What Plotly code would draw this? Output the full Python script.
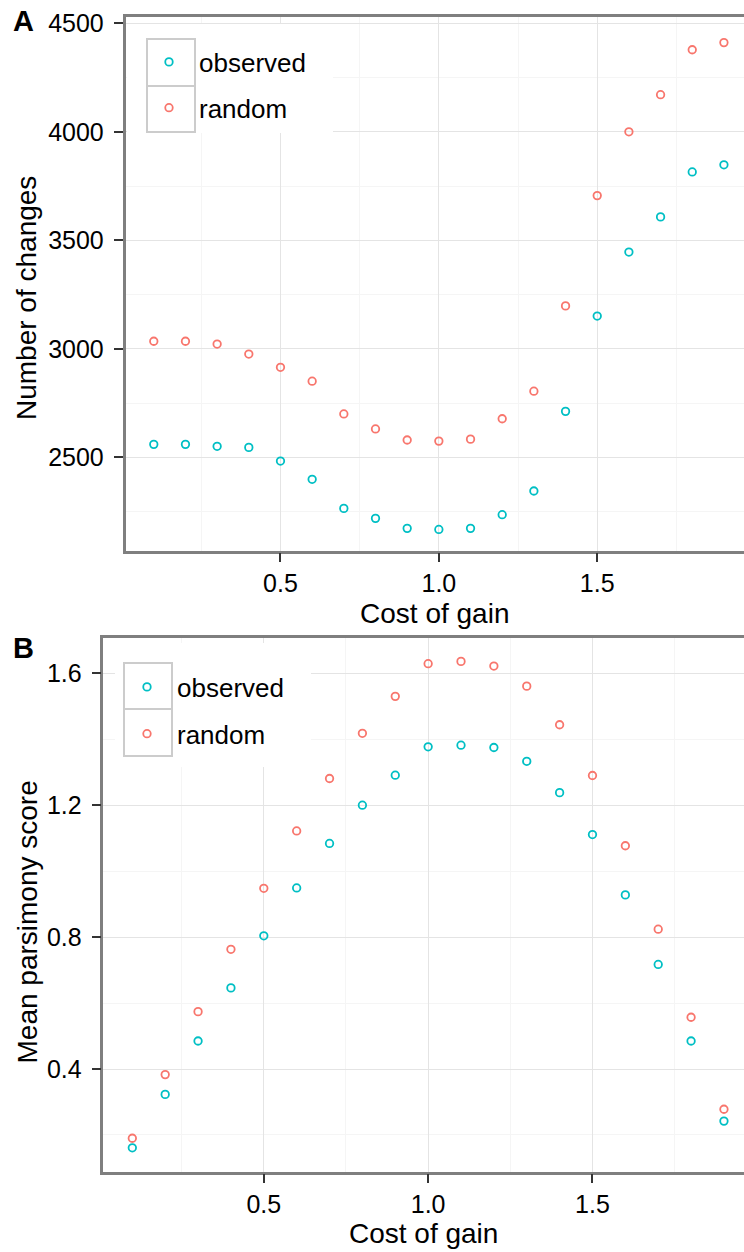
import plotly.graph_objects as go

# ---------------- data ----------------
cost_of_gain = [0.1, 0.2, 0.3, 0.4, 0.5, 0.6, 0.7, 0.8, 0.9, 1.0,
                1.1, 1.2, 1.3, 1.4, 1.5, 1.6, 1.7, 1.8, 1.9]

changes_observed = [2560, 2560, 2551, 2546, 2483, 2399, 2265, 2219, 2173, 2168,
                    2173, 2236, 2345, 2712, 3151, 3446, 3608, 3815, 3848]
changes_random = [3035, 3035, 3022, 2976, 2915, 2851, 2700, 2631, 2580, 2575,
                  2584, 2678, 2805, 3198, 3706, 4000, 4171, 4378, 4411]

parsimony_observed = [0.161, 0.323, 0.485, 0.646, 0.804, 0.949, 1.084, 1.200, 1.291, 1.377,
                      1.382, 1.375, 1.333, 1.238, 1.111, 0.928, 0.717, 0.485, 0.242]
parsimony_random = [0.190, 0.383, 0.574, 0.763, 0.948, 1.122, 1.281, 1.418, 1.530, 1.629,
                    1.636, 1.622, 1.561, 1.444, 1.290, 1.077, 0.824, 0.557, 0.278]

series_names = ["observed", "random"]
x_title = "Cost of gain"
y_title_a = "Number of changes"
y_title_b = "Mean parsimony score"

# ---------------- style ----------------
W, H = 744, 1252
FONT = "Liberation Sans, Arial, Helvetica, sans-serif"
COLORS = {"observed": "#00BFC4", "random": "#F8766D"}
BORDER = "#7f7f7f"
GRID = "#e4e4e4"
MINOR = "#f5f5f5"


def px_x(p):
    return p / W


def px_y(p):
    return 1 - p / H


fig = go.Figure()

panel_a = {"observed": changes_observed, "random": changes_random}
panel_b = {"observed": parsimony_observed, "random": parsimony_random}

for name in series_names:
    fig.add_trace(go.Scatter(
        x=cost_of_gain, y=panel_a[name], mode="markers", name=name,
        legend="legend", legendgroup="a_" + name, xaxis="x", yaxis="y",
        marker=dict(symbol="circle-open", size=7.5, color=COLORS[name],
                    line=dict(width=1.8, color=COLORS[name])),
    ))
for name in series_names:
    fig.add_trace(go.Scatter(
        x=cost_of_gain, y=panel_b[name], mode="markers", name=name,
        legend="legend2", legendgroup="b_" + name, xaxis="x2", yaxis="y2",
        marker=dict(symbol="circle-open", size=7.5, color=COLORS[name],
                    line=dict(width=1.8, color=COLORS[name])),
    ))

common_axis = dict(
    showline=True, linecolor=BORDER, linewidth=2.5,
    ticks="outside", ticklen=9, tickwidth=2, tickcolor="#333333",
    showgrid=True, gridcolor=GRID, gridwidth=1.3, zeroline=False,
    automargin=False,
    tickfont=dict(family=FONT, size=25, color="black"),
)

fig.update_layout(
    width=W, height=H, autosize=False,
    margin=dict(l=0, r=0, t=0, b=0, autoexpand=False),
    paper_bgcolor="white", plot_bgcolor="white",
    font=dict(family=FONT, color="black"),
    xaxis=dict(common_axis, domain=[px_x(125.5), 1], range=[0.0107, 1.9634],
               anchor="y", mirror=True, dtick=0.5, tick0=0, tickformat=".1f",
               minor=dict(dtick=0.25, tick0=0, showgrid=True, gridcolor=MINOR, gridwidth=1),
               title=dict(text=x_title, font=dict(family=FONT, size=28, color="black"), standoff=7)),
    yaxis=dict(common_axis, domain=[px_y(550.7), px_y(17)], range=[2070, 4529],
               anchor="x", mirror=False, dtick=500, tick0=0, ticklabelstandoff=5,
               minor=dict(dtick=250, tick0=0, showgrid=True, gridcolor=MINOR, gridwidth=1)),
    xaxis2=dict(common_axis, domain=[px_x(103.4), 1], range=[0.012, 1.961],
                anchor="y2", mirror=True, dtick=0.5, tick0=0, tickformat=".1f",
                minor=dict(dtick=0.25, tick0=0, showgrid=True, gridcolor=MINOR, gridwidth=1),
                title=dict(text=x_title, font=dict(family=FONT, size=28, color="black"), standoff=5)),
    yaxis2=dict(common_axis, domain=[px_y(1171.7), px_y(638)], range=[0.0886, 1.707],
                anchor="x2", mirror=False, dtick=0.4, tick0=0, tickformat=".1f",
                ticklabelstandoff=5,
                minor=dict(dtick=0.2, tick0=0, showgrid=True, gridcolor=MINOR, gridwidth=1)),
    legend=dict(x=px_x(139), y=px_y(38.5), xanchor="left", yanchor="top",
                bgcolor="rgba(0,0,0,0)", borderwidth=0, itemwidth=50,
                traceorder="grouped", tracegroupgap=9,
                font=dict(family=FONT, size=26, color="black")),
    legend2=dict(x=px_x(117), y=px_y(663.5), xanchor="left", yanchor="top",
                 bgcolor="rgba(0,0,0,0)", borderwidth=0, itemwidth=50,
                 traceorder="grouped", tracegroupgap=10,
                 font=dict(family=FONT, size=26, color="black")),
    showlegend=True,
)

# legend backgrounds and key boxes (ggplot-style)
shapes = []
for (bx0, by0, bx1, by1), (kx0, kx1, ky0, ky1, ky2) in [
    ((127, 24, 333, 133), (147, 195, 39, 86, 132)),
    ((115, 643, 311, 767), (124, 172, 663, 709, 756)),
]:
    shapes.append(dict(type="rect", xref="paper", yref="paper", layer="above",
                       x0=px_x(bx0), x1=px_x(bx1), y0=px_y(by1), y1=px_y(by0),
                       fillcolor="white", line=dict(width=0)))
    for ya, yb in [(ky0, ky1), (ky1, ky2)]:
        shapes.append(dict(type="rect", xref="paper", yref="paper", layer="above",
                           x0=px_x(kx0), x1=px_x(kx1), y0=px_y(yb), y1=px_y(ya),
                           fillcolor="rgba(0,0,0,0)", line=dict(color="#cccccc", width=2)))
fig.update_layout(shapes=shapes)

annotations = [
    dict(text="<b>A</b>", x=px_x(11), y=px_y(21), xref="paper", yref="paper",
         xanchor="left", yanchor="middle", showarrow=False,
         font=dict(family=FONT, size=29, color="black")),
    dict(text="<b>B</b>", x=px_x(11), y=px_y(648), xref="paper", yref="paper",
         xanchor="left", yanchor="middle", showarrow=False,
         font=dict(family=FONT, size=29, color="black")),
    dict(text=y_title_a, x=px_x(26), y=px_y(298), xref="paper", yref="paper",
         xanchor="center", yanchor="middle", textangle=-90, showarrow=False,
         font=dict(family=FONT, size=28, color="black")),
    dict(text=y_title_b, x=px_x(26.5), y=px_y(922), xref="paper", yref="paper",
         xanchor="center", yanchor="middle", textangle=-90, showarrow=False,
         font=dict(family=FONT, size=28, color="black")),
]
fig.update_layout(annotations=annotations)

fig.write_html(
    "out.html",
    config={"displayModeBar": False},
    post_script="document.body.style.margin='0';document.body.style.overflow='hidden';",
)
